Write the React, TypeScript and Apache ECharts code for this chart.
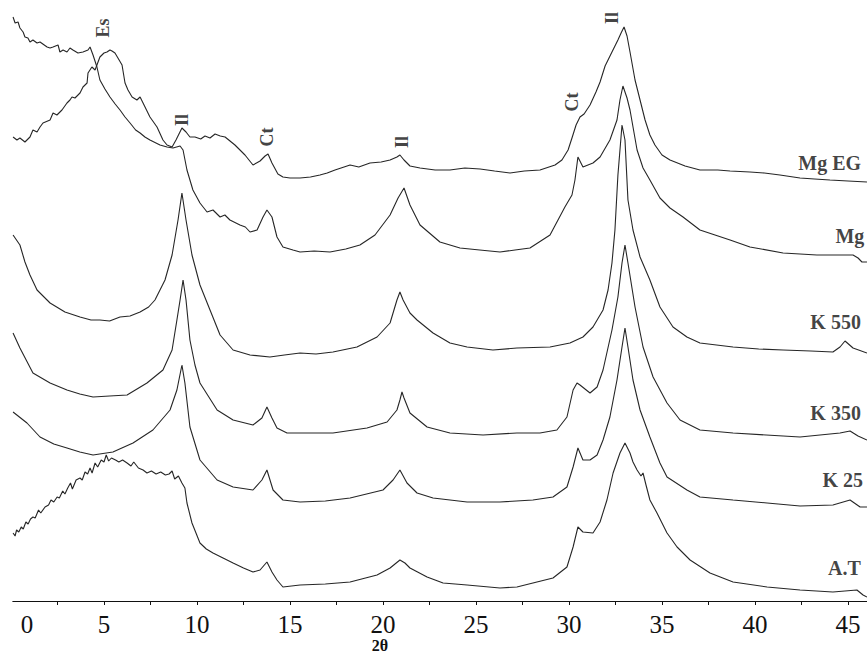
import React, { useEffect, useRef } from "react";
import * as echarts from "echarts";

// 2θ (degrees) vs. stacked intensity (a.u., offset per sample)
const seriesNames = ["Mg EG", "Mg", "K 550", "K 350", "K 25", "A.T"];

const mgEG: number[][] = [
  [0.11, 464], [0.32, 461], [0.48, 463], [0.75, 459], [1.02, 464], [1.18, 471], [1.4, 469], [1.56, 474],
  [1.72, 478], [2.1, 481], [2.26, 488], [2.47, 486], [2.74, 491], [3.01, 498], [3.17, 501], [3.28, 504],
  [3.44, 503], [3.71, 508], [3.87, 514], [4.09, 518], [4.14, 528], [4.35, 534], [4.52, 531], [4.78, 544],
  [5.0, 548], [5.16, 549], [5.32, 551], [5.43, 550], [5.59, 548], [5.75, 543], [5.97, 536], [6.13, 518],
  [6.29, 511], [6.51, 504], [6.77, 501], [6.94, 504], [7.1, 498], [7.47, 484], [7.85, 474], [8.17, 461],
  [8.39, 456], [8.66, 454], [8.87, 461], [9.19, 473], [9.41, 469], [9.62, 464], [9.89, 464], [10.2, 462],
  [10.43, 465], [10.7, 463], [10.97, 467], [11.25, 465], [11.51, 464], [12.04, 456], [12.58, 446],
  [13.01, 436], [13.39, 440], [13.66, 445], [13.82, 447], [14.03, 438], [14.35, 427], [14.62, 424],
  [15.0, 423], [15.54, 423], [16.1, 424], [16.61, 426], [17.0, 428], [17.42, 431], [18.23, 436],
  [18.7, 434], [19.3, 438], [19.9, 439], [20.38, 441], [20.75, 444], [20.91, 446], [21.13, 441],
  [21.45, 435], [21.99, 433], [22.8, 431], [23.6, 431], [24.4, 433], [25.22, 432], [26.0, 430],
  [26.83, 428], [27.6, 430], [28.44, 431], [29.25, 436], [29.62, 441], [29.95, 451], [30.16, 463],
  [30.38, 476], [30.59, 484], [30.81, 487], [31.13, 496], [31.45, 509], [31.67, 519], [31.94, 535],
  [32.31, 549], [32.63, 561], [32.8, 568], [32.96, 574], [33.12, 565], [33.28, 549], [33.55, 521],
  [33.82, 501], [34.09, 481], [34.35, 466], [34.62, 456], [35.0, 446], [35.43, 441], [36.24, 435],
  [37.04, 431], [38.0, 431], [38.66, 430], [39.73, 429], [40.5, 428], [41.34, 426], [42.42, 423],
  [43.2, 422], [44.03, 421], [45.0, 420], [46.02, 419],
];

const mg: number[][] = [
  [0.11, 584], [0.22, 578], [0.38, 579], [0.48, 573], [0.65, 569], [0.75, 564], [0.91, 563], [1.02, 559],
  [1.18, 561], [1.4, 558], [1.56, 559], [1.94, 554], [2.1, 553], [2.26, 554], [2.53, 556], [2.63, 549],
  [2.8, 551], [3.01, 549], [3.17, 553], [3.33, 551], [3.6, 548], [3.87, 549], [4.14, 551], [4.25, 554],
  [4.41, 546], [4.62, 534], [4.78, 521], [5.05, 512], [5.32, 504], [5.6, 497], [5.86, 491], [6.13, 484],
  [6.4, 478], [6.7, 471], [6.94, 468], [7.2, 464], [7.47, 461], [8.01, 456], [8.39, 454], [8.71, 453],
  [9.09, 455], [9.25, 451], [9.46, 431], [9.78, 411], [10.16, 398], [10.54, 389], [10.86, 391],
  [11.24, 384], [11.5, 386], [11.77, 381], [12.31, 376], [12.6, 374], [12.85, 369], [13.23, 371],
  [13.55, 384], [13.76, 391], [14.03, 384], [14.3, 364], [14.62, 354], [15.16, 351], [15.54, 349],
  [16.3, 350], [17.15, 349], [18.0, 352], [18.76, 356], [19.57, 366], [20.38, 386], [20.81, 403],
  [21.13, 413], [21.45, 396], [21.99, 376], [23.06, 359], [24.14, 353], [25.2, 351], [26.29, 349],
  [27.1, 351], [27.9, 353], [28.98, 366], [29.78, 394], [30.16, 406], [30.32, 421], [30.48, 444],
  [30.75, 434], [31.29, 438], [31.67, 444], [32.2, 461], [32.58, 481], [32.74, 501], [32.9, 515],
  [33.12, 503], [33.28, 491], [33.66, 451], [33.98, 433], [34.35, 421], [34.89, 403], [35.43, 393],
  [36.13, 384], [37.04, 371], [38.66, 361], [39.73, 354], [41.51, 348], [43.33, 346], [45.27, 346],
  [45.54, 343], [45.75, 339], [46.02, 339],
];

const k550: number[][] = [
  [0.11, 366], [0.48, 356], [0.75, 339], [1.02, 326], [1.4, 311], [2.1, 298], [2.9, 289], [3.71, 284],
  [4.3, 281], [4.78, 281], [5.3, 280], [5.86, 284], [6.4, 285], [6.94, 289], [7.4, 294], [7.74, 301],
  [8.28, 321], [8.66, 346], [8.98, 381], [9.19, 408], [9.41, 381], [9.73, 346], [10.16, 316],
  [10.7, 291], [11.24, 266], [11.94, 251], [12.85, 246], [13.92, 244], [14.7, 246], [15.54, 248],
  [16.4, 247], [17.31, 249], [18.6, 254], [19.68, 264], [20.38, 278], [20.75, 301], [20.91, 309],
  [21.08, 301], [21.45, 288], [21.83, 281], [22.69, 268], [23.6, 258], [24.52, 254], [25.91, 251],
  [27.2, 253], [28.98, 254], [30.05, 258], [30.75, 264], [31.29, 274], [31.83, 291], [32.1, 311],
  [32.31, 338], [32.47, 371], [32.63, 426], [32.74, 451], [32.85, 476], [33.01, 461], [33.17, 401],
  [33.44, 371], [33.82, 344], [34.35, 321], [34.89, 294], [35.59, 274], [36.34, 264], [37.04, 258],
  [38.82, 254], [40.2, 252], [41.51, 251], [43.0, 250], [44.19, 249], [44.57, 254], [44.84, 260],
  [45.27, 253], [46.02, 248],
];

const k350: number[][] = [
  [0.11, 268], [0.48, 253], [1.18, 228], [2.1, 218], [3.01, 211], [3.7, 207], [4.41, 204], [5.3, 205],
  [6.24, 206], [7.31, 218], [8.17, 231], [8.66, 251], [8.92, 281], [9.09, 301], [9.25, 321],
  [9.41, 301], [9.62, 261], [9.89, 236], [10.16, 218], [11.08, 191], [11.94, 181], [13.01, 176],
  [13.49, 183], [13.76, 194], [14.03, 183], [14.3, 173], [14.84, 168], [15.54, 168], [17.31, 168],
  [19.14, 173], [20.22, 179], [20.75, 191], [20.91, 201], [21.02, 209], [21.13, 203], [21.45, 188],
  [22.37, 174], [23.6, 168], [25.38, 166], [27.2, 168], [28.44, 168], [29.35, 171], [29.89, 184],
  [30.22, 211], [30.43, 218], [30.59, 216], [31.13, 208], [31.51, 214], [31.83, 231], [32.31, 271],
  [32.63, 304], [32.85, 338], [33.01, 356], [33.17, 338], [33.55, 294], [33.98, 254], [34.52, 224],
  [35.27, 198], [35.97, 181], [37.04, 171], [38.82, 168], [40.6, 166], [42.42, 164], [44.57, 168],
  [45.11, 170], [45.54, 165], [46.02, 161],
];

const k25: number[][] = [
  [0.11, 189], [0.86, 178], [1.56, 164], [2.3, 157], [3.01, 153], [3.7, 149], [4.41, 146], [5.48, 149],
  [6.56, 158], [7.63, 171], [8.55, 191], [8.92, 211], [9.19, 236], [9.35, 218], [9.62, 174],
  [10.16, 141], [11.08, 121], [11.94, 114], [13.01, 111], [13.49, 121], [13.76, 131], [14.09, 111],
  [14.62, 101], [15.54, 99], [16.9, 100], [18.23, 103], [20.0, 111], [20.54, 121], [20.91, 131],
  [21.29, 118], [21.83, 108], [22.69, 103], [24.52, 99], [26.29, 99], [28.06, 101], [29.14, 104],
  [29.89, 114], [30.22, 134], [30.48, 153], [30.75, 141], [31.13, 141], [31.51, 146], [31.83, 161],
  [32.2, 184], [32.58, 221], [32.85, 254], [33.01, 273], [33.17, 254], [33.44, 221], [33.82, 191],
  [34.35, 164], [34.89, 138], [35.27, 124], [36.34, 111], [37.04, 104], [38.82, 101], [40.65, 98],
  [42.42, 95], [44.19, 96], [45.11, 101], [45.65, 94], [46.02, 94],
];

const airTreated: number[][] = [
  [0.11, 68], [0.22, 65], [0.3, 71], [0.42, 69], [0.55, 74], [0.66, 72], [0.8, 79], [0.92, 77],
  [1.05, 82], [1.18, 84], [1.3, 83], [1.48, 91], [1.6, 88], [1.83, 94], [2.02, 96], [2.15, 101],
  [2.3, 99], [2.48, 104], [2.6, 103], [2.78, 110], [2.9, 107], [3.05, 113], [3.2, 118], [3.3, 112],
  [3.5, 121], [3.71, 123], [3.83, 121], [3.98, 129], [4.12, 127], [4.25, 133], [4.36, 128], [4.52, 138],
  [4.66, 134], [4.85, 141], [5.0, 139], [5.12, 146], [5.25, 140], [5.4, 143], [5.62, 141], [5.8, 139],
  [6.0, 141], [6.24, 138], [6.45, 135], [6.6, 139], [6.85, 133], [7.1, 131], [7.31, 128], [7.55, 130],
  [7.8, 127], [8.05, 129], [8.3, 126], [8.5, 127], [8.66, 130], [8.8, 122], [9.0, 125], [9.19, 118],
  [9.35, 113], [9.46, 98], [9.73, 78], [10.16, 58], [10.5, 52], [10.86, 48], [11.4, 43],
  [11.94, 38], [12.5, 33], [13.01, 29], [13.39, 31], [13.76, 39], [14.03, 29], [14.3, 21], [14.62, 14],
  [15.54, 16], [16.9, 17], [18.23, 19], [19.68, 26], [20.38, 33], [20.91, 41], [21.18, 38], [21.45, 33],
  [22.37, 24], [23.23, 18], [24.52, 16], [26.29, 13], [27.2, 14], [28.06, 18], [29.14, 23], [29.89, 34],
  [30.22, 54], [30.48, 74], [30.75, 69], [31.29, 68], [31.67, 79], [32.04, 101], [32.37, 128],
  [32.74, 148], [33.01, 158], [33.28, 148], [33.44, 139], [33.66, 131], [33.87, 125], [33.98, 128],
  [34.14, 116], [34.35, 101], [34.73, 88], [35.27, 68], [35.81, 54], [36.51, 41], [37.58, 28],
  [38.82, 19], [40.65, 14], [42.42, 11], [44.19, 9], [45.48, 11], [45.81, 6], [46.02, 4],
];

// mineral peak annotations: [2θ, intensity, text]
const peakLabels: (number | string)[][] = [
  [4.95, 573, "Es"], [9.19, 481, "Il"], [13.76, 464, "Ct"],
  [21.02, 459, "Il"], [30.16, 499, "Ct"], [32.31, 583, "Il"],
];
// sample name anchor positions: [2θ, intensity]
const namePositions: number[][] = [
  [42.3, 438], [44.3, 365], [42.95, 279], [42.95, 188], [43.6, 121], [43.9, 33],
];

const tickValues = [2.5, 5, 7.5, 10, 12.5, 15, 17.5, 20, 22.5, 25, 27.5, 30, 32.5, 35, 37.5, 40, 42.5, 45, 47.5];
const labelValues = [0.86, 5, 10, 15, 20, 25, 30, 35, 40, 45];

const SERIF = '"Liberation Serif", "Times New Roman", serif';

export default function App() {
  const ref = useRef<HTMLDivElement>(null);
  useEffect(() => {
    if (!ref.current) return;
    const chart = echarts.init(ref.current, null, { renderer: "svg" });
    const traces = [mgEG, mg, k550, k350, k25, airTreated];
    const lineSeries = traces.map((d, i) => ({
      type: "line",
      name: seriesNames[i],
      data: d,
      showSymbol: false,
      symbol: "none",
      lineStyle: { color: "#262626", width: 1.1 },
      silent: true,
      z: 2,
    }));
    chart.setOption({
      animation: false,
      backgroundColor: "#ffffff",
      grid: { left: 12.86, right: 17.6, top: 1, bottom: 54 },
      xAxis: {
        type: "value",
        min: 0.1,
        max: 49,
        axisLine: { show: true, lineStyle: { color: "#111", width: 1.2 } },
        axisTick: { show: true, length: 4, customValues: tickValues, lineStyle: { color: "#111" } },
        axisLabel: {
          show: true,
          customValues: labelValues,
          formatter: (v: number) => (v < 1 ? "0" : String(v)),
          fontFamily: SERIF,
          fontSize: 25,
          color: "#111",
          margin: 11,
        },
        splitLine: { show: false },
      },
      yAxis: {
        type: "value",
        min: 0,
        max: 600,
        show: false,
        splitLine: { show: false },
      },
      series: [
        ...lineSeries,
        {
          type: "scatter",
          data: peakLabels,
          symbolSize: 1,
          itemStyle: { color: "rgba(255,255,255,0)" },
          silent: true,
          z: 5,
          label: {
            show: true,
            position: "inside",
            rotate: 90,
            formatter: (p: any) => p.data[2],
            fontFamily: SERIF,
            fontSize: 18,
            fontWeight: "bold",
            color: "#111",
          },
        },
        {
          type: "scatter",
          data: namePositions.map((p, i) => [p[0], p[1], seriesNames[i]]),
          symbolSize: 1,
          itemStyle: { color: "rgba(255,255,255,0)" },
          silent: true,
          z: 5,
          label: {
            show: true,
            position: "right",
            distance: 0,
            formatter: (p: any) => p.data[2],
            fontFamily: SERIF,
            fontSize: 20,
            fontWeight: "bold",
            color: "#111",
          },
        },
      ],
      graphic: [
        {
          type: "text",
          x: 380,
          y: 645,
          style: {
            text: "2θ",
            fontFamily: SERIF,
            fontSize: 16,
            fontWeight: "bold",
            fill: "#111",
            align: "center",
            verticalAlign: "middle",
          },
        },
      ],
    });
    return () => chart.dispose();
  }, []);
  return (
    <div style={{ position: "fixed", left: 0, top: 0, width: 867, height: 655, overflow: "hidden", background: "#fff" }}>
      <div ref={ref} style={{ width: 940, height: 655 }} />
    </div>
  );
}
